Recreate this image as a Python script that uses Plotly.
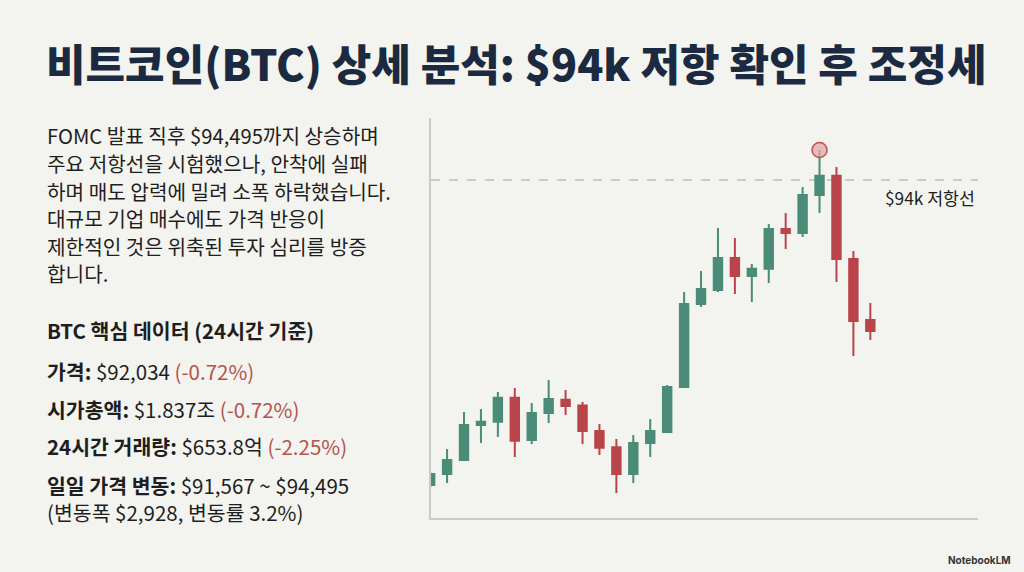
import plotly.graph_objects as go

# ---- data ----
candle_idx = list(range(27))
opens  = [88968, 89149, 89380, 89958, 90012, 90408, 89710, 90156, 90375, 90280,
          89860, 89590, 89149, 89660, 89842, 90584, 91954, 92185, 92713, 92416,
          92536, 93192, 93126, 93752, 94071, 92697, 91690]
highs  = [89182, 89562, 90172, 90222, 90502, 90568, 90320, 90700, 90535, 90337,
          89974, 89726, 89792, 90056, 90617, 92152, 92498, 93208, 93043, 92614,
          93274, 93456, 93884, 94495, 94215, 92828, 91970]
lows   = [88918, 89000, 89364, 89660, 89760, 89430, 89644, 89990, 90122, 89644,
          89462, 88835, 89000, 89430, 89825, 90568, 91904, 92152, 92119, 91987,
          92300, 92862, 93060, 93456, 92317, 91096, 91360]
closes = [89149, 89380, 89958, 90012, 90408, 89698, 90156, 90386, 90271, 89858,
          89583, 89149, 89660, 89858, 90584, 91954, 92201, 92713, 92416, 92536,
          93192, 93126, 93752, 94071, 92697, 91673, 91508]
resistance = 94000
resistance_label = "$94k 저항선"
peak_idx = 23
peak_price = 94495

title_text = "비트코인(BTC) 상세 분석: $94k 저항 확인 후 조정세"
body_lines = [
    "FOMC 발표 직후 $94,495까지 상승하며",
    "주요 저항선을 시험했으나, 안착에 실패",
    "하며 매도 압력에 밀려 소폭 하락했습니다.",
    "대규모 기업 매수에도 가격 반응이",
    "제한적인 것은 위축된 투자 심리를 방증",
    "합니다.",
]
data_header = "BTC 핵심 데이터 (24시간 기준)"
data_rows = [
    ("가격:", " $92,034", " (-0.72%)"),
    ("시가총액:", " $1.837조", " (-0.72%)"),
    ("24시간 거래량:", " $653.8억", " (-2.25%)"),
    ("일일 가격 변동:", " $91,567 ~ $94,495", ""),
]
data_extra = "(변동폭 $2,928, 변동률 3.2%)"
brand = "NotebookLM"

# ---- style ----
BG = "#f3f3ef"
GREEN = "#4a8c77"
RED = "#b9444a"
NAVY = "#1b2a41"
TEXT = "#1e1e1e"
NEG = "#b4524d"
FONT = "Noto Sans CJK KR"

W, H = 1024, 572
L, R, T, B = 431, 978, 118, 518

def px(xp):
    return (xp - L) / (R - L)

def py(yp):
    return (B - yp) / (B - T)

fig = go.Figure()
fig.add_trace(go.Candlestick(
    x=candle_idx, open=opens, high=highs, low=lows, close=closes,
    increasing=dict(line=dict(color=GREEN, width=2), fillcolor=GREEN),
    decreasing=dict(line=dict(color=RED, width=2), fillcolor=RED),
    whiskerwidth=0, showlegend=False, hoverinfo="skip",
))
fig.add_trace(go.Scatter(
    x=[peak_idx], y=[peak_price], mode="markers",
    marker=dict(size=15, color="rgba(226,170,170,0.75)",
                line=dict(color="#c0504d", width=1.5)),
    showlegend=False, hoverinfo="skip",
))

fig.add_shape(type="line", xref="paper", yref="y", x0=0, x1=1,
              y0=resistance, y1=resistance,
              line=dict(color="#bdbdbd", width=1.5, dash="dash"), layer="below")

ann = []
ann.append(dict(text=resistance_label, xref="paper", yref="paper",
                x=px(977), y=py(197), xanchor="right", yanchor="middle",
                showarrow=False, font=dict(family=FONT, size=17.3, color=TEXT)))
ann.append(dict(text=title_text, xref="paper", yref="paper",
                x=px(44), y=py(62), xanchor="left", yanchor="middle",
                showarrow=False,
                font=dict(family=FONT, size=43, color=NAVY, weight=800)))
body_y = [135, 163, 191, 219, 246, 273]
for line, yy in zip(body_lines, body_y):
    ann.append(dict(text=line, xref="paper", yref="paper",
                    x=px(45), y=py(yy), xanchor="left", yanchor="middle",
                    showarrow=False, font=dict(family=FONT, size=20.2, color=TEXT)))
ann.append(dict(text="<b>" + data_header + "</b>", xref="paper", yref="paper",
                x=px(45), y=py(330), xanchor="left", yanchor="middle",
                showarrow=False, font=dict(family=FONT, size=20.5, color=TEXT)))
row_y = [371, 409, 446, 485]
for (lab, val, chg), yy in zip(data_rows, row_y):
    t = "<b>" + lab + "</b>" + val
    if chg:
        t += "<span style='color:%s'>%s</span>" % (NEG, chg)
    ann.append(dict(text=t, xref="paper", yref="paper",
                    x=px(45), y=py(yy), xanchor="left", yanchor="middle",
                    showarrow=False, font=dict(family=FONT, size=20.5, color=TEXT)))
ann.append(dict(text=data_extra, xref="paper", yref="paper",
                x=px(45), y=py(512), xanchor="left", yanchor="middle",
                showarrow=False, font=dict(family=FONT, size=20.5, color=TEXT)))
ann.append(dict(text="<b>" + brand + "</b>", xref="paper", yref="paper",
                x=px(1013), y=py(560), xanchor="right", yanchor="middle",
                showarrow=False, font=dict(family="Inter", size=10, color="#333333")))

fig.update_layout(
    width=W, height=H,
    margin=dict(l=L, r=W - R, t=T, b=H - B, pad=0),
    paper_bgcolor=BG, plot_bgcolor=BG,
    annotations=ann,
    xaxis=dict(range=[0.05, 32.36], showgrid=False, zeroline=False,
               showticklabels=False, ticks="", showline=True,
               linecolor="#cacaca", linewidth=2, rangeslider=dict(visible=False),
               fixedrange=True),
    yaxis=dict(range=[88423, 95023], showgrid=False, zeroline=False,
               showticklabels=False, ticks="", showline=True,
               linecolor="#cacaca", linewidth=2, fixedrange=True),
    boxgap=0.29,
)

fig.write_html("out.html", config=dict(displayModeBar=False),
               post_script="document.body.style.margin='0';document.body.style.background='%s';" % BG)
